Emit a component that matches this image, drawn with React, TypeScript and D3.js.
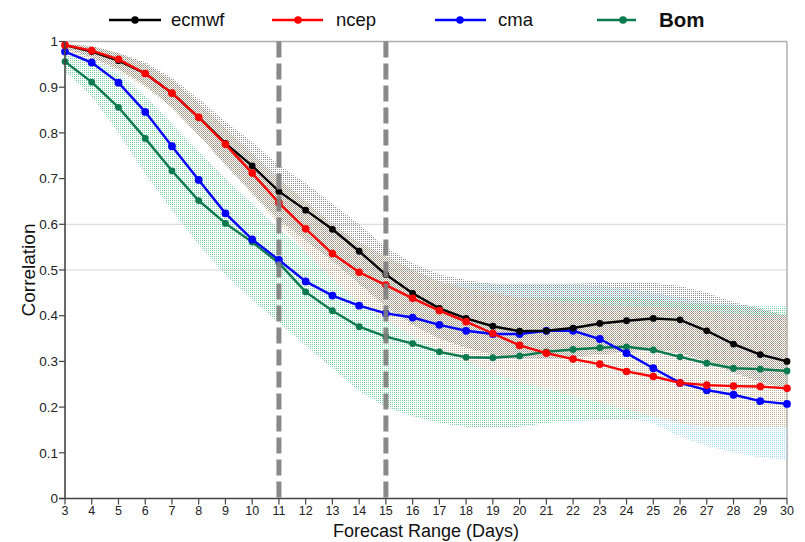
import React from "react";
import * as d3 from "d3";

// ---- data ----
const days = [3, 4, 5, 6, 7, 8, 9, 10, 11, 12, 13, 14, 15, 16, 17, 18, 19, 20, 21, 22, 23, 24, 25, 26, 27, 28, 29, 30];

const ecmwf = [0.992, 0.978, 0.958, 0.930, 0.887, 0.834, 0.777, 0.728, 0.672, 0.631, 0.589, 0.541, 0.490, 0.449, 0.416, 0.394, 0.377, 0.366, 0.367, 0.373, 0.383, 0.389, 0.394, 0.391, 0.367, 0.338, 0.315, 0.300];
const ncep = [0.992, 0.980, 0.961, 0.930, 0.887, 0.834, 0.775, 0.712, 0.647, 0.590, 0.536, 0.495, 0.467, 0.438, 0.411, 0.387, 0.361, 0.335, 0.318, 0.305, 0.294, 0.278, 0.267, 0.253, 0.248, 0.246, 0.245, 0.241];
const cma = [0.978, 0.954, 0.910, 0.846, 0.771, 0.697, 0.624, 0.567, 0.522, 0.475, 0.444, 0.422, 0.405, 0.396, 0.380, 0.367, 0.360, 0.360, 0.367, 0.367, 0.349, 0.318, 0.285, 0.253, 0.237, 0.227, 0.213, 0.207];
const bom = [0.956, 0.911, 0.856, 0.788, 0.717, 0.652, 0.602, 0.561, 0.515, 0.452, 0.411, 0.376, 0.354, 0.339, 0.321, 0.309, 0.308, 0.312, 0.321, 0.326, 0.330, 0.332, 0.325, 0.310, 0.296, 0.285, 0.283, 0.279];

// spread bands (upper / lower)
const ecmwfHi = [0.995, 0.99, 0.975, 0.955, 0.92, 0.875, 0.825, 0.78, 0.73, 0.69, 0.645, 0.60, 0.55, 0.515, 0.49, 0.478, 0.47, 0.47, 0.47, 0.47, 0.472, 0.472, 0.472, 0.465, 0.45, 0.43, 0.415, 0.40];
const ecmwfLo = [0.985, 0.965, 0.94, 0.905, 0.855, 0.795, 0.73, 0.67, 0.61, 0.565, 0.52, 0.47, 0.42, 0.38, 0.35, 0.33, 0.315, 0.305, 0.305, 0.31, 0.315, 0.32, 0.325, 0.32, 0.30, 0.275, 0.255, 0.24];
const ncepHi = [0.995, 0.99, 0.975, 0.95, 0.915, 0.865, 0.81, 0.755, 0.70, 0.65, 0.60, 0.56, 0.53, 0.50, 0.475, 0.46, 0.45, 0.44, 0.435, 0.43, 0.425, 0.42, 0.42, 0.415, 0.41, 0.405, 0.40, 0.40];
const ncepLo = [0.975, 0.96, 0.935, 0.90, 0.855, 0.795, 0.73, 0.665, 0.60, 0.54, 0.478, 0.43, 0.39, 0.355, 0.325, 0.30, 0.275, 0.255, 0.24, 0.225, 0.21, 0.195, 0.18, 0.165, 0.157, 0.157, 0.157, 0.157];
const cmaHi = [0.99, 0.975, 0.94, 0.88, 0.81, 0.74, 0.67, 0.615, 0.57, 0.53, 0.50, 0.485, 0.475, 0.47, 0.47, 0.47, 0.47, 0.47, 0.47, 0.47, 0.465, 0.46, 0.45, 0.44, 0.43, 0.425, 0.42, 0.42];
const cmaLo = [0.965, 0.935, 0.885, 0.815, 0.735, 0.655, 0.58, 0.52, 0.47, 0.42, 0.38, 0.345, 0.31, 0.275, 0.24, 0.21, 0.185, 0.17, 0.17, 0.17, 0.175, 0.175, 0.165, 0.135, 0.115, 0.10, 0.09, 0.085];
const bomHi = [0.985, 0.96, 0.925, 0.88, 0.82, 0.76, 0.70, 0.645, 0.59, 0.54, 0.50, 0.47, 0.45, 0.44, 0.44, 0.44, 0.44, 0.44, 0.44, 0.44, 0.44, 0.44, 0.435, 0.43, 0.425, 0.42, 0.42, 0.42];
const bomLo = [0.935, 0.88, 0.80, 0.71, 0.63, 0.555, 0.49, 0.435, 0.385, 0.335, 0.285, 0.235, 0.20, 0.18, 0.165, 0.157, 0.155, 0.157, 0.165, 0.17, 0.172, 0.172, 0.18, 0.19, 0.195, 0.20, 0.20, 0.20];

const seriesNames = ["ecmwf", "ncep", "cma", "Bom"];
const yTickValues = [0, 0.1, 0.2, 0.3, 0.4, 0.5, 0.6, 0.7, 0.8, 0.9, 1];
const yTickLabels = ["0", "0.1", "0.2", "0.3", "0.4", "0.5", "0.6", "0.7", "0.8", "0.9", "1"];
const gridValues = [0.5, 0.6];
const markerDays = [11, 15];

export default function App() {
  const x = d3.scaleLinear().domain([3, 30]).range([65, 787]);
  const y = d3.scaleLinear().domain([0, 1]).range([498.5, 41.5]);

  const line = (vals: number[]) =>
    d3.line<number>().x((_, i) => x(days[i])).y((v) => y(v))(vals) || "";
  const area = (lo: number[], hi: number[]) =>
    d3
      .area<number>()
      .x((_, i) => x(days[i]))
      .y0((_, i) => y(lo[i]))
      .y1((_, i) => y(hi[i]))(lo) || "";

  const series = [
    { name: seriesNames[0], vals: ecmwf, color: "#000000", r: 3.4 },
    { name: seriesNames[1], vals: ncep, color: "#ff0000", r: 3.8 },
    { name: seriesNames[2], vals: cma, color: "#0000ff", r: 3.9 },
    { name: seriesNames[3], vals: bom, color: "#0b7a4f", r: 3.4 },
  ];
  const drawOrder = [3, 2, 0, 1];

  const bands = [
    { id: "pC", lo: cmaLo, hi: cmaHi },
    { id: "pG", lo: bomLo, hi: bomHi },
    { id: "pT", lo: ncepLo, hi: ncepHi },
    { id: "pK", lo: ecmwfLo, hi: ecmwfHi },
  ];

  const legend = [
    { x1: 109, x2: 161, mx: 135, tx: 171, bold: false },
    { x1: 272, x2: 323, mx: 298, tx: 336, bold: false },
    { x1: 435, x2: 486, mx: 460, tx: 498, bold: false },
    { x1: 597, x2: 636, mx: 623, tx: 659, bold: true },
  ];

  const font = "'Liberation Sans', Arial, Helvetica, sans-serif";
  const x0 = x(3), x1 = x(30), yTop = y(1), yBot = y(0);

  return (
    <svg
      width={805}
      height={542}
      style={{ position: "absolute", left: 0, top: 0, background: "#fff" }}
      fontFamily={font}
    >
      <defs>
        <pattern id="pC" width={2} height={2} patternUnits="userSpaceOnUse">
          <rect x={0} y={0} width={1} height={1} fill="#a8def4" />
        </pattern>
        <pattern id="pG" width={2} height={2} patternUnits="userSpaceOnUse">
          <rect x={0} y={0} width={1} height={1} fill="#72d09e" />
        </pattern>
        <pattern id="pT" width={2} height={2} patternUnits="userSpaceOnUse">
          <rect x={0} y={0} width={1} height={1} fill="#c0ae8e" />
        </pattern>
        <pattern id="pK" width={2} height={2} patternUnits="userSpaceOnUse">
          <rect x={1} y={1} width={1} height={1} fill="#8e8e8e" />
        </pattern>
        <clipPath id="plot">
          <rect x={x0} y={yTop} width={x1 - x0} height={yBot - yTop} />
        </clipPath>
      </defs>

      {/* frame and gridlines */}
      <line x1={x0} x2={x1} y1={yTop} y2={yTop} stroke="#b0b0b0" strokeWidth={1.5} />
      <line x1={x1} x2={x1} y1={yTop} y2={yBot} stroke="#9a9a9a" strokeWidth={1.2} />
      {gridValues.map((g) => (
        <line key={g} x1={x0} x2={x1} y1={y(g)} y2={y(g)} stroke="#d4d4d4" strokeWidth={1} />
      ))}

      {/* bands */}
      <g clipPath="url(#plot)">
        {bands.map((b) => (
          <path key={b.id} d={area(b.lo, b.hi)} fill={`url(#${b.id})`} />
        ))}
      </g>

      {/* series */}
      {drawOrder.map((k) => {
        const s = series[k];
        return (
          <g key={s.name}>
            <path d={line(s.vals)} fill="none" stroke={s.color} strokeWidth={2.4} />
            {s.vals.map((v, i) => (
              <circle key={i} cx={x(days[i])} cy={y(v)} r={s.r} fill={s.color} />
            ))}
          </g>
        );
      })}

      {/* dashed vertical lines */}
      {markerDays.map((d) => (
        <line
          key={d}
          x1={x(d)}
          x2={x(d)}
          y1={yTop}
          y2={yBot}
          stroke="#7f7f7f"
          strokeWidth={5}
          strokeDasharray="16 6"
          opacity={0.92}
        />
      ))}

      {/* axes */}
      <line x1={x0} x2={x0} y1={yTop} y2={yBot} stroke="#444" strokeWidth={1.6} />
      <line x1={x0 - 6} x2={x1} y1={yBot} y2={yBot} stroke="#444" strokeWidth={1.6} />
      {yTickValues.map((v, i) => (
        <g key={v}>
          <line x1={x0 - 6} x2={x0} y1={y(v)} y2={y(v)} stroke="#444" strokeWidth={1.2} />
          <text x={x0 - 7} y={y(v)} dy="0.35em" textAnchor="end" fontSize={13.5} fill="#222">
            {yTickLabels[i]}
          </text>
        </g>
      ))}
      {days.map((d) => (
        <g key={d}>
          <line x1={x(d)} x2={x(d)} y1={yBot} y2={yBot + 6} stroke="#444" strokeWidth={1.2} />
          <text x={x(d)} y={yBot + 16.5} textAnchor="middle" fontSize={12.5} fill="#222">
            {d}
          </text>
        </g>
      ))}
      <text x={(x0 + x1) / 2} y={537} textAnchor="middle" fontSize={18} fill="#111">
        Forecast Range (Days)
      </text>
      <text
        transform={`translate(35,${y(0.5)}) rotate(-90)`}
        textAnchor="middle"
        fontSize={19}
        fill="#111"
      >
        Correlation
      </text>

      {/* legend */}
      {legend.map((l, i) => (
        <g key={i}>
          <line x1={l.x1} x2={l.x2} y1={20} y2={20} stroke={series[i].color} strokeWidth={2.4} />
          <circle cx={l.mx} cy={20} r={3.8} fill={series[i].color} />
          <text
            x={l.tx}
            y={20}
            dy="0.35em"
            fontSize={l.bold ? 20.5 : 18.5}
            fontWeight={l.bold ? "bold" : "normal"}
            fill="#111"
          >
            {series[i].name}
          </text>
        </g>
      ))}
    </svg>
  );
}
